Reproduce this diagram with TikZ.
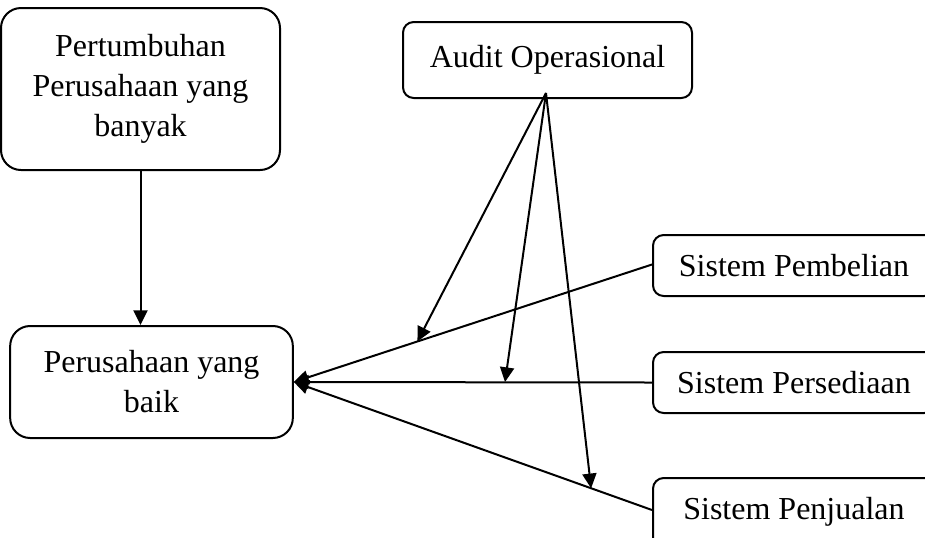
\documentclass[tikz,border=0pt]{standalone}
\usepackage{fontspec}
\setmainfont{Liberation Serif}
\usetikzlibrary{arrows.meta,calc}
\begin{document}
\begin{tikzpicture}[x=0.75pt,y=-0.75pt,
  box/.style={draw,line width=1.5pt,align=center,inner sep=0pt,
    font=\fontsize{24}{30}\selectfont},
  bigbox/.style={box,rounded corners=15pt},
  smallbox/.style={box,rounded corners=8pt},
  sysbox/.style={smallbox,text height=17pt,text depth=0pt,minimum width=211.5pt,minimum height=45.75pt},
  arr/.style={line width=1.5pt,-{Triangle[length=11pt,width=10.5pt]}}]
\useasboundingbox (0,0) rectangle (925,537);
\clip (0,0) rectangle (925,537);
\node[bigbox,minimum width=209.25pt,minimum height=121.5pt] (grow) at (140.5,89) {Pertumbuhan\\Perusahaan yang\\banyak};
\node[bigbox,minimum width=212pt,minimum height=84pt] (baik) at (151.5,382) {Perusahaan yang\\baik};
\node[smallbox,minimum width=216.75pt,minimum height=57pt] (audit) at (547.5,60) {Audit Operasional};
\node[sysbox] (pemb) at (794,265.5) {Sistem Pembelian};
\node[sysbox] (pers) at (794,382.5) {Sistem Persediaan};
\node[sysbox,text depth=10.5pt,minimum height=55.5pt] (penj) at (794,515) {Sistem Penjualan};
\draw[arr] (grow.south) -- (grow.south |- baik.north);
\coordinate (pembout) at ($(pemb.west)+(0,-1)$);
\coordinate (penjout) at (penj.west |- 0,510);
\draw[arr] (pembout) -- (baik.east);
\draw[arr] (pers.west) -- (baik.east);
\draw[arr] (penjout) -- (baik.east);
\coordinate (src) at (546,93);
\coordinate (t1) at ($(pembout)!0.655!(baik.east)$);
\coordinate (t2) at (505,382);
\coordinate (t3) at ($(penjout)!0.17!(baik.east)$);
\draw[arr] (src) -- (t1);
\draw[arr] (src) -- (t2);
\draw[arr] (src) -- (t3);
\end{tikzpicture}
\end{document}
